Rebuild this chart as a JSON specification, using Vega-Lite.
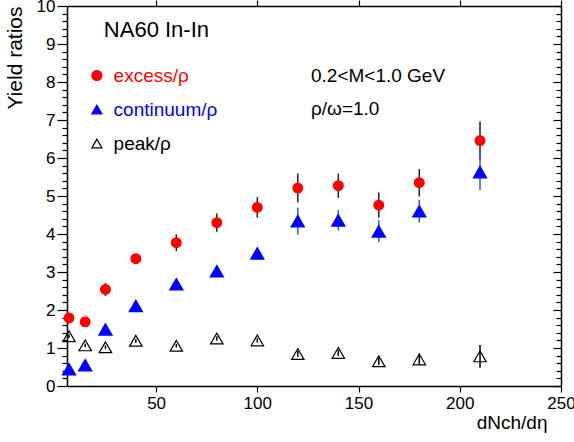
{
  "$schema": "https://vega.github.io/schema/vega-lite/v6.json",
  "width": 494,
  "height": 380,
  "autosize": {"type": "none"},
  "padding": {"left": 67, "top": 6, "right": 13, "bottom": 56},
  "background": "white",
  "config": {
    "font": "Liberation Sans",
    "view": {"stroke": null},
    "axis": {
      "grid": false,
      "domainColor": "black",
      "tickColor": "black",
      "labelColor": "black",
      "titleColor": "black",
      "labelFont": "Liberation Sans",
      "titleFont": "Liberation Sans",
      "labelFontSize": 17,
      "domainWidth": 1.5,
      "tickWidth": 1.2,
      "titleFontWeight": "normal"
    },
    "legend": {
      "labelFont": "Liberation Sans",
      "labelFontSize": 19,
      "symbolSize": 100,
      "rowPadding": 14,
      "labelOffset": 7.2,
      "symbolStrokeWidth": 1.2,
      "padding": 0
    }
  },
  "datasets": {
    "pts": [
      {"n": 7, "r": 1.79, "lo": 1.69, "hi": 1.89, "s": "excess/ρ"},
      {"n": 15, "r": 1.69, "lo": 1.59, "hi": 1.79, "s": "excess/ρ"},
      {"n": 25, "r": 2.54, "lo": 2.37, "hi": 2.71, "s": "excess/ρ"},
      {"n": 40, "r": 3.35, "lo": 3.23, "hi": 3.47, "s": "excess/ρ"},
      {"n": 60, "r": 3.77, "lo": 3.55, "hi": 3.99, "s": "excess/ρ"},
      {"n": 80, "r": 4.30, "lo": 4.06, "hi": 4.54, "s": "excess/ρ"},
      {"n": 100, "r": 4.70, "lo": 4.43, "hi": 4.97, "s": "excess/ρ"},
      {"n": 120, "r": 5.21, "lo": 4.83, "hi": 5.59, "s": "excess/ρ"},
      {"n": 140, "r": 5.27, "lo": 4.95, "hi": 5.59, "s": "excess/ρ"},
      {"n": 160, "r": 4.76, "lo": 4.43, "hi": 5.09, "s": "excess/ρ"},
      {"n": 180, "r": 5.35, "lo": 4.99, "hi": 5.71, "s": "excess/ρ"},
      {"n": 210, "r": 6.46, "lo": 5.96, "hi": 6.96, "s": "excess/ρ"},
      {"n": 7, "r": 0.44, "lo": 0.39, "hi": 0.49, "s": "continuum/ρ"},
      {"n": 15, "r": 0.55, "lo": 0.50, "hi": 0.60, "s": "continuum/ρ"},
      {"n": 25, "r": 1.49, "lo": 1.43, "hi": 1.55, "s": "continuum/ρ"},
      {"n": 40, "r": 2.11, "lo": 2.04, "hi": 2.18, "s": "continuum/ρ"},
      {"n": 60, "r": 2.68, "lo": 2.60, "hi": 2.76, "s": "continuum/ρ"},
      {"n": 80, "r": 3.02, "lo": 2.92, "hi": 3.12, "s": "continuum/ρ"},
      {"n": 100, "r": 3.49, "lo": 3.34, "hi": 3.64, "s": "continuum/ρ"},
      {"n": 120, "r": 4.34, "lo": 3.99, "hi": 4.69, "s": "continuum/ρ"},
      {"n": 140, "r": 4.36, "lo": 4.09, "hi": 4.63, "s": "continuum/ρ"},
      {"n": 160, "r": 4.07, "lo": 3.78, "hi": 4.36, "s": "continuum/ρ"},
      {"n": 180, "r": 4.60, "lo": 4.30, "hi": 4.90, "s": "continuum/ρ"},
      {"n": 210, "r": 5.63, "lo": 5.16, "hi": 6.10, "s": "continuum/ρ"},
      {"n": 7, "r": 1.31, "lo": 1.26, "hi": 1.36, "s": "peak/ρ"},
      {"n": 15, "r": 1.07, "lo": 1.02, "hi": 1.12, "s": "peak/ρ"},
      {"n": 25, "r": 1.02, "lo": 0.97, "hi": 1.07, "s": "peak/ρ"},
      {"n": 40, "r": 1.19, "lo": 1.14, "hi": 1.24, "s": "peak/ρ"},
      {"n": 60, "r": 1.06, "lo": 1.01, "hi": 1.11, "s": "peak/ρ"},
      {"n": 80, "r": 1.25, "lo": 1.19, "hi": 1.31, "s": "peak/ρ"},
      {"n": 100, "r": 1.20, "lo": 1.14, "hi": 1.26, "s": "peak/ρ"},
      {"n": 120, "r": 0.84, "lo": 0.76, "hi": 0.92, "s": "peak/ρ"},
      {"n": 140, "r": 0.87, "lo": 0.79, "hi": 0.95, "s": "peak/ρ"},
      {"n": 160, "r": 0.65, "lo": 0.55, "hi": 0.75, "s": "peak/ρ"},
      {"n": 180, "r": 0.70, "lo": 0.55, "hi": 0.85, "s": "peak/ρ"},
      {"n": 210, "r": 0.78, "lo": 0.48, "hi": 1.08, "s": "peak/ρ"}
    ],
    "title1": [
      {"x": 24.2, "y": 9.18, "t": "NA60 In-In"}
    ],
    "notes": [
      {"x": 126.5, "y": 8.01, "t": "0.2<M<1.0 GeV"},
      {"x": 126.5, "y": 7.13, "t": "ρ/ω=1.0"}
    ]
  },
  "layer": [
    {
      "data": {"name": "pts"},
      "mark": {"type": "rule", "strokeWidth": 1.5},
      "encoding": {
        "x": {
          "field": "n", "type": "quantitative",
          "scale": {"domain": [6, 250], "nice": false, "zero": false},
          "axis": {
            "orient": "bottom", "values": [50, 100, 150, 200, 250],
            "tickSize": 6, "labelPadding": 3, "labelFlush": false,
            "title": "dNch/dη", "titleFontSize": 19,
            "titleAnchor": "end", "titleAlign": "right",
            "titleX": 480, "titleY": 42, "titleBaseline": "alphabetic"
          }
        },
        "y": {
          "field": "lo", "type": "quantitative",
          "scale": {"domain": [0, 10], "nice": false, "zero": false},
          "axis": {
            "orient": "left", "values": [0, 1, 2, 3, 4, 5, 6, 7, 8, 9, 10],
            "tickSize": 10, "labelPadding": 2,
            "title": "Yield ratios", "titleFontSize": 21,
            "titleAnchor": "end", "titlePadding": 11
          }
        },
        "y2": {"field": "hi"},
        "color": {
          "field": "s", "type": "nominal",
          "scale": {"domain": ["peak/ρ", "continuum/ρ", "excess/ρ"], "range": ["#000000", "#3355ff", "#222222"]},
          "legend": null
        }
      }
    },
    {
      "data": {"name": "pts"},
      "mark": {"type": "point", "filled": true, "opacity": 1, "fillOpacity": 1, "strokeWidth": 1.2},
      "encoding": {
        "x": {
          "field": "n", "type": "quantitative",
          "scale": {"domain": [6, 250], "nice": false, "zero": false},
          "axis": {"orient": "top", "values": [50, 100, 150, 200, 250], "labels": false, "tickSize": 6, "title": null}
        },
        "y": {
          "field": "r", "type": "quantitative",
          "scale": {"domain": [0, 10], "nice": false, "zero": false},
          "axis": {"orient": "right", "values": [0, 1, 2, 3, 4, 5, 6, 7, 8, 9, 10], "labels": false, "tickSize": -8, "title": null}
        },
        "fill": {
          "field": "s", "type": "nominal",
          "scale": {"domain": ["excess/ρ", "continuum/ρ", "peak/ρ"], "range": ["#ff0000", "#0000ff", "transparent"]},
          "legend": {"title": null, "orient": "none", "legendX": 20.4, "legendY": 60, "labelColor": {"expr": "scale('stroke', datum.value)"}}
        },
        "stroke": {
          "field": "s", "type": "nominal",
          "scale": {"domain": ["excess/ρ", "continuum/ρ", "peak/ρ"], "range": ["#ff0000", "#0000ff", "#000000"]},
          "legend": {"title": null, "orient": "none", "legendX": 20.4, "legendY": 60, "labelColor": {"expr": "scale('stroke', datum.value)"}}
        },
        "shape": {
          "field": "s", "type": "nominal",
          "scale": {"domain": ["excess/ρ", "continuum/ρ", "peak/ρ"], "range": ["circle", "triangle-up", "triangle-up"]},
          "legend": {"title": null, "orient": "none", "legendX": 20.4, "legendY": 60, "labelColor": {"expr": "scale('stroke', datum.value)"}}
        },
        "size": {
          "field": "s", "type": "nominal",
          "scale": {"type": "ordinal", "domain": ["continuum/ρ", "excess/ρ", "peak/ρ"], "range": [175, 95, 155]},
          "legend": null
        }
      }
    },
    {
      "data": {"name": "title1"},
      "mark": {"type": "text", "align": "left", "baseline": "alphabetic", "fontSize": 22, "color": "black"},
      "encoding": {
        "x": {"field": "x", "type": "quantitative", "scale": {"domain": [6, 250], "nice": false, "zero": false}, "axis": null},
        "y": {
          "field": "y", "type": "quantitative",
          "scale": {"domain": [0, 10], "nice": false, "zero": false},
          "axis": {
            "orient": "left", "labels": false, "domain": false, "tickSize": 5, "title": null,
            "values": [0.2, 0.4, 0.6, 0.8, 1.2, 1.4, 1.6, 1.8, 2.2, 2.4, 2.6, 2.8, 3.2, 3.4, 3.6, 3.8, 4.2, 4.4, 4.6, 4.8, 5.2, 5.4, 5.6, 5.8, 6.2, 6.4, 6.6, 6.8, 7.2, 7.4, 7.6, 7.8, 8.2, 8.4, 8.6, 8.8, 9.2, 9.4, 9.6, 9.8]
          }
        },
        "text": {"field": "t"}
      }
    },
    {
      "data": {"name": "notes"},
      "mark": {"type": "text", "align": "left", "baseline": "alphabetic", "fontSize": 19, "color": "black"},
      "encoding": {
        "x": {"field": "x", "type": "quantitative", "scale": {"domain": [6, 250], "nice": false, "zero": false}, "axis": null},
        "y": {
          "field": "y", "type": "quantitative",
          "scale": {"domain": [0, 10], "nice": false, "zero": false},
          "axis": {
            "orient": "right", "labels": false, "domain": false, "tickSize": -5, "title": null,
            "values": [0.2, 0.4, 0.6, 0.8, 1.2, 1.4, 1.6, 1.8, 2.2, 2.4, 2.6, 2.8, 3.2, 3.4, 3.6, 3.8, 4.2, 4.4, 4.6, 4.8, 5.2, 5.4, 5.6, 5.8, 6.2, 6.4, 6.6, 6.8, 7.2, 7.4, 7.6, 7.8, 8.2, 8.4, 8.6, 8.8, 9.2, 9.4, 9.6, 9.8]
          }
        },
        "text": {"field": "t"}
      }
    }
  ],
  "resolve": {
    "scale": {"x": "shared", "y": "shared"},
    "axis": {"x": "independent", "y": "independent"}
  }
}
